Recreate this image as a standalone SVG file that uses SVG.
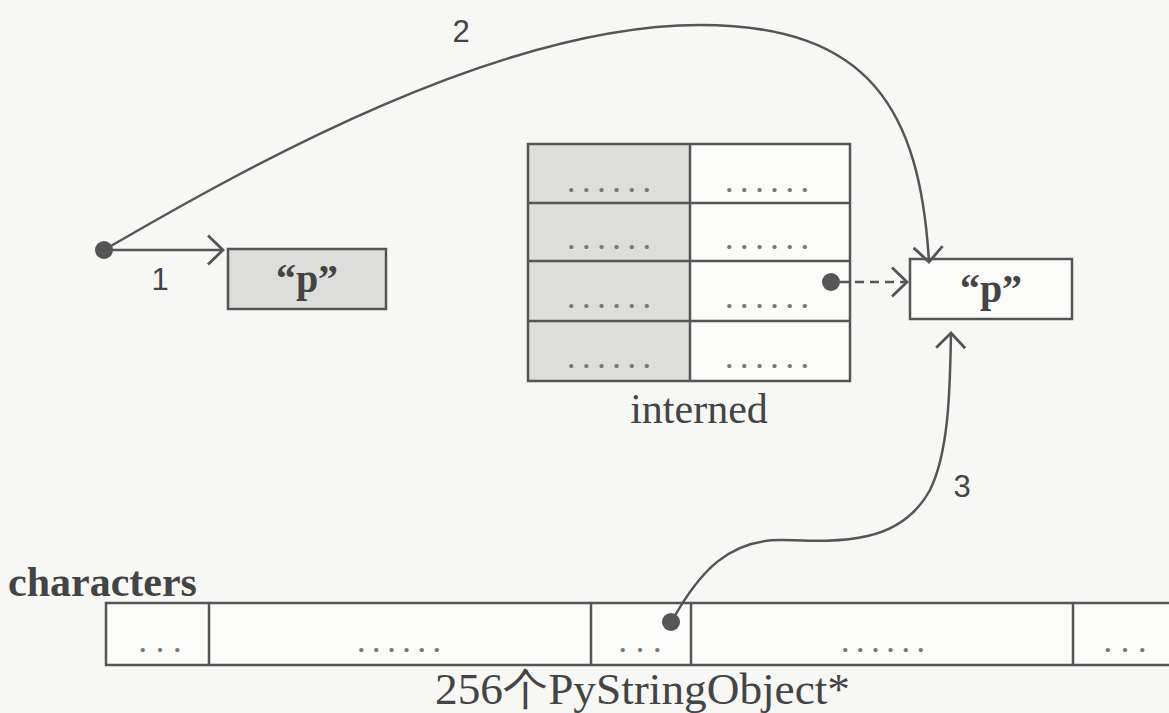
<svg xmlns="http://www.w3.org/2000/svg" width="1169" height="713" viewBox="0 0 1169 713">
<style>
.box{stroke:#555;stroke-width:2.5;fill:#fbfbfa}
.gray{fill:#dddddb}
.ln{stroke:#555;stroke-width:2.5;fill:none}
.dots{font-family:"Liberation Serif",serif;font-weight:bold;font-size:26px;fill:#777;text-anchor:middle}
.q{font-family:"Liberation Serif",serif;font-weight:bold;font-size:40px;fill:#444;text-anchor:middle}
.num{font-family:"Liberation Sans",sans-serif;font-size:31px;fill:#444;text-anchor:middle}
.lbl{font-family:"Liberation Serif",serif;fill:#444}
.dot{fill:#555}
</style>
<defs>
<marker id="arr" viewBox="0 0 18 32" refX="16" refY="16" markerWidth="18" markerHeight="32" markerUnits="userSpaceOnUse" orient="auto">
<path d="M1,1.5 L16,16 L1,30.5" fill="none" stroke="#555" stroke-width="2.8"/>
</marker>
</defs>
<rect width="1169" height="713" fill="#f7f7f5"/>

<g id="left-p">
<rect class="box gray" x="228" y="249" width="158" height="60"/>
<text class="q" x="307" y="292">“p”</text>
</g>

<g id="interned">
<rect class="gray" x="528" y="144" width="162" height="237"/>
<rect x="690" y="144" width="160" height="237" fill="#fbfbfa"/>
<rect x="528" y="144" width="322" height="237" fill="none" stroke="#555" stroke-width="2.5"/>
<path class="ln" d="M690,144 V381 M528,203 H850 M528,261 H850 M528,321 H850"/>
<text class="dots" x="609" y="192" textLength="82" lengthAdjust="spacing">......</text>
<text class="dots" x="767" y="192" textLength="82" lengthAdjust="spacing">......</text>
<text class="dots" x="609" y="249" textLength="82" lengthAdjust="spacing">......</text>
<text class="dots" x="767" y="249" textLength="82" lengthAdjust="spacing">......</text>
<text class="dots" x="609" y="308" textLength="82" lengthAdjust="spacing">......</text>
<text class="dots" x="767" y="308" textLength="82" lengthAdjust="spacing">......</text>
<text class="dots" x="609" y="368" textLength="82" lengthAdjust="spacing">......</text>
<text class="dots" x="767" y="368" textLength="82" lengthAdjust="spacing">......</text>
<text class="lbl" x="699" y="423" font-size="42" text-anchor="middle">interned</text>
</g>

<g id="right-p">
<rect class="box" x="910" y="259" width="162" height="60"/>
<text class="q" x="991" y="302">“p”</text>
</g>

<g id="characters">
<text class="lbl" x="8" y="596" font-size="42" font-weight="bold">characters</text>
<rect class="box" x="106" y="603" width="1075" height="62"/>
<path class="ln" d="M209,603 V665 M591,603 V665 M691,603 V665 M1073,603 V665"/>
<text class="dots" x="160" y="652" textLength="41" lengthAdjust="spacing">...</text>
<text class="dots" x="399" y="652" textLength="82" lengthAdjust="spacing">......</text>
<text class="dots" x="640" y="652" textLength="41" lengthAdjust="spacing">...</text>
<text class="dots" x="883" y="652" textLength="82" lengthAdjust="spacing">......</text>
<text class="dots" x="1125" y="652" textLength="41" lengthAdjust="spacing">...</text>
<text class="lbl" x="435" y="704" font-size="44" textLength="415" lengthAdjust="spacingAndGlyphs">256个PyStringObject*</text>
</g>

<g id="connectors">
<path class="ln" d="M104,250 H223" marker-end="url(#arr)"/>
<path class="ln" d="M104,250 C250,165 500,25 700,25 C870,25 920,110 929,262" marker-end="url(#arr)"/>
<path class="ln" d="M840,282 H907" stroke-dasharray="9,6" marker-end="url(#arr)"/>
<path class="ln" d="M672,621 C700,570 730,540 780,540 C840,542 900,545 930,490 C950,450 950,380 951,333" marker-end="url(#arr)"/>
<circle class="dot" cx="104" cy="250" r="9"/>
<circle class="dot" cx="831" cy="282" r="9"/>
<circle class="dot" cx="671" cy="622" r="9"/>
<text class="num" x="160" y="290">1</text>
<text class="num" x="461" y="42">2</text>
<text class="num" x="962" y="497">3</text>
</g>
</svg>
